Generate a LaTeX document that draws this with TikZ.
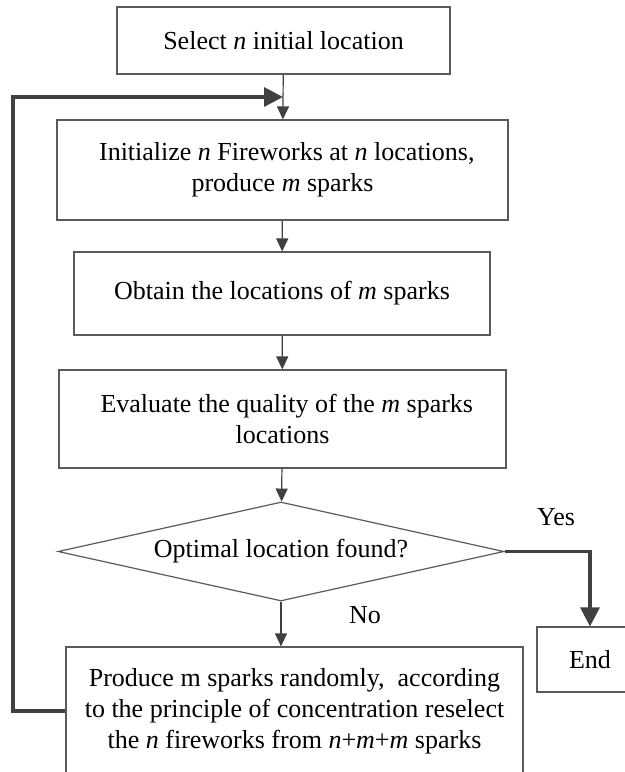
\documentclass[tikz,border=0pt]{standalone}
\usepackage{fontspec}
\setmainfont{Liberation Serif}
\usetikzlibrary{shapes.geometric,arrows.meta}

\definecolor{linegray}{HTML}{404040}
\definecolor{boxgray}{HTML}{5A5A5A}

\begin{document}
\begin{tikzpicture}[x=0.5pt,y=-0.5pt,
    font=\fontsize{13}{15.5}\selectfont,
    stepbox/.style={draw=boxgray, line width=0.6pt, rectangle, align=center, inner sep=0pt},
    test/.style={draw=boxgray, line width=0.6pt, diamond, aspect=4.5, inner sep=0pt,
      minimum width=223pt, minimum height=49.5pt},
    flow/.style={draw=linegray, line width=0.6pt, -{Triangle[length=6.5pt,width=6pt]}},
    back/.style={draw=linegray, line width=1.6pt, -{Triangle[length=9.5pt,width=9.5pt]}},
  ]
    \useasboundingbox (0,0) rectangle (625,772);
    \clip (0,0) rectangle (625,772);

    % main chain
    \node[stepbox, minimum width=166.5pt, minimum height=33.5pt] (sel) at (283.5,40.5)
      {Select \emph{n} initial location};
    \node[stepbox, minimum width=225.5pt, minimum height=50pt] (init) at (282.5,170)
      {\,\,Initialize \emph{n} Fireworks at \emph{n} locations,\\produce \emph{m} sparks};
    \node[stepbox, minimum width=208pt, minimum height=41.5pt] (obtain) at (282,293.5)
      {Obtain the locations of \emph{m} sparks};
    \node[stepbox, minimum width=223.5pt, minimum height=49pt] (eval) at (282.5,419)
      {\,\,Evaluate the quality of the \emph{m} sparks\\locations};
    \node[test] (opt) at (281,551.5) {Optimal location found?};
    \node[stepbox, minimum width=228.5pt, minimum height=64pt] (rese) at (294.5,711)
      {Produce m sparks randomly,\ \ according\\to the principle of concentration reselect\\the \emph{n} fireworks from \emph{n}+\emph{m}+\emph{m} sparks};
    \node[stepbox, minimum width=53pt, minimum height=32.5pt] (end) at (590,659.5) {End};

    \node (yes) at (556,517) {Yes};
    \node (no) at (365,615) {No};

    \coordinate (join) at (283,97);

    \draw[flow] (sel) -- (init);
    \draw[flow] (init) -- (obtain);
    \draw[flow] (obtain) -- (eval);
    \draw[flow] (eval) -- (opt);
    \draw[flow] (opt) -- (opt |- rese.north);
    \draw[back] (opt.east) -| (end.north);
    \draw[back] (rese.west) -| (13,97) -- (join);
\end{tikzpicture}
\end{document}
